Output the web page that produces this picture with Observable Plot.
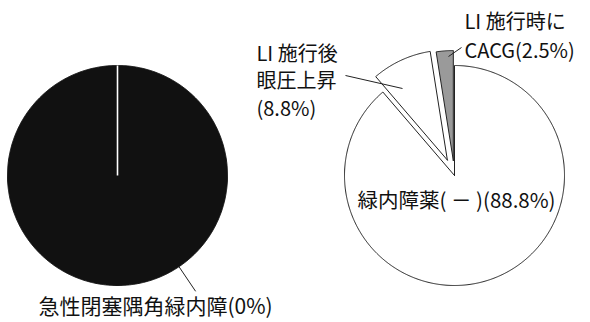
<!DOCTYPE html>
<html><head><meta charset="utf-8">
<script src="https://cdn.jsdelivr.net/npm/d3@7"></script>
<script src="https://cdn.jsdelivr.net/npm/@observablehq/plot@0.6"></script>
<style>
html,body{margin:0;padding:0;background:#fff}
svg{display:block}
</style>
</head><body><div id="chart"></div>
<script>
// ---- data ----
const leftCategories = ["急性閉塞隅角緑内障", "その他"];
const leftShares = [0, 100];
const leftLabel = "急性閉塞隅角緑内障(0%)";

const rightCategories = ["緑内障薬(－)", "LI 施行後眼圧上昇", "LI 施行時にCACG"];
const rightShares = [88.8, 8.8, 2.5];
const rightLabels = [["緑内障薬( － )(88.8%)"], ["LI 施行後", "眼圧上昇", "(8.8%)"], ["LI 施行時に", "CACG(2.5%)"]];

// ---- layout ----
const W = 590, H = 322, R = 110;
const leftCenter = [117, 175], rightCenter = [454, 175];
const explode = [0, 17, 15];
const rightFills = ["#ffffff", "#ffffff", "#9a9a9a"];
const FONT = "Noto Sans CJK JP";

const pie = d3.pie().sort(null).value(d => d);
const pt = (c, a, r) => [c[0] + r * Math.sin(a), c[1] - r * Math.cos(a)];

function slicePolygon(c, s, r, off) {
  const mid = (s.startAngle + s.endAngle) / 2;
  const cc = pt(c, mid, off);
  const pts = [{x: cc[0], y: cc[1]}];
  const n = Math.max(2, Math.ceil((s.endAngle - s.startAngle) / (Math.PI / 360)));
  for (let k = 0; k <= n; k++) {
    const a = s.startAngle + (s.endAngle - s.startAngle) * k / n;
    const p = pt(cc, a, r);
    pts.push({x: p[0], y: p[1]});
  }
  pts.push({x: cc[0], y: cc[1]});
  return {pts, cc};
}

const leftArcs = pie(leftShares);
const rightArcs = pie(rightShares);

const leftPoly = slicePolygon(leftCenter, leftArcs[1], R, 0).pts;
const zeroEdge = (() => { const p = pt(leftCenter, leftArcs[0].startAngle, R); return [{x1: leftCenter[0], y1: leftCenter[1], x2: p[0], y2: p[1]}]; })();

const rightPolys = rightArcs.map((s, i) => slicePolygon(rightCenter, s, R, explode[i]));

// leader lines (relative to pie geometry)
const leftLeaderAngle = 146 * Math.PI / 180;
const lA = pt(leftCenter, leftLeaderAngle, R), lB = pt(leftCenter, leftLeaderAngle, R * 1.27);
const leaders = [
  {x1: lA[0], y1: lA[1], x2: lB[0], y2: lB[1]},
  {x1: rightCenter[0] - 109, y1: rightCenter[1] - 100, x2: rightCenter[0] - 52, y2: rightCenter[1] - 87},
  {x1: rightCenter[0] - 6, y1: rightCenter[1] - 119, x2: rightCenter[0] + 7, y2: rightCenter[1] - 128}
];

const texts = [
  {t: rightLabels[0][0], x: rightCenter[0] + 2, y: rightCenter[1] + 26, a: "middle"},
  ...rightLabels[1].map((t, j) => ({t, x: 256, y: 54 + j * 27.5, a: "start"})),
  ...rightLabels[2].map((t, j) => ({t, x: 464, y: 22 + j * 29, a: "start"}))
];

const marks = [
  Plot.line(leftPoly, {x: "x", y: "y", fill: "#111", stroke: "#111", strokeWidth: 1}),
  Plot.link(zeroEdge, {x1: "x1", y1: "y1", x2: "x2", y2: "y2", stroke: "#fff", strokeWidth: 1.6}),
  ...rightPolys.map((p, i) => Plot.line(p.pts, {x: "x", y: "y", fill: rightFills[i], stroke: "#222", strokeWidth: 1, strokeLinejoin: "miter"})),
  Plot.link(leaders, {x1: "x1", y1: "y1", x2: "x2", y2: "y2", stroke: "#222", strokeWidth: 1}),
  Plot.text([{t: leftLabel, x: leftCenter[0] + 38, y: 307}], {x: "x", y: "y", text: "t", textAnchor: "middle", fontSize: 21, fill: "#111", fontFamily: FONT}),
  Plot.text(texts.filter(d => d.a === "middle"), {x: "x", y: "y", text: "t", textAnchor: "middle", fontSize: 20.5, fill: "#111", fontFamily: FONT}),
  Plot.text(texts.filter(d => d.a === "start"), {x: "x", y: "y", text: "t", textAnchor: "start", fontSize: 20, fill: "#111", fontFamily: FONT})
];

const chart = Plot.plot({
  width: W, height: H,
  margin: 0,
  x: {domain: [0, W], range: [0, W], axis: null},
  y: {domain: [0, H], range: [0, H], axis: null},
  style: {background: "#fff", fontFamily: FONT},
  marks
});
document.getElementById("chart").appendChild(chart);
</script>
</body></html>
